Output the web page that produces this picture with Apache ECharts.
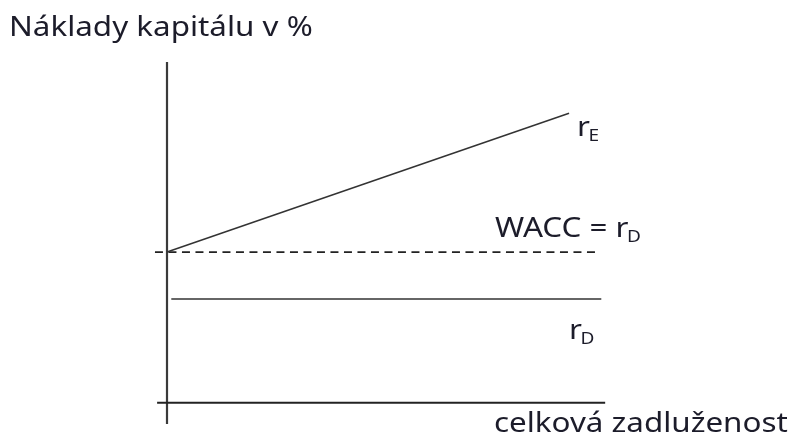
<!DOCTYPE html>
<html>
<head>
<meta charset="utf-8">
<script src="https://cdn.jsdelivr.net/npm/echarts@6/dist/echarts.min.js"></script>
<style>
  html, body { margin: 0; padding: 0; background: #fff; }
  #chart { width: 794px; height: 441px; }
</style>
</head>
<body>
<div id="chart"></div>
<script>
// schematic values: x = celková zadluženost, y = náklady kapitálu (abstract units)
var osaY = [[0, -7], [0, 113]];
var osaX = [[-2.3, 0], [101.9, 0]];
var waccRD = [[-2.8, 50], [100, 50]];
var rE = [[0, 50], [93.5, 96]];
var rD = [[1, 34.4], [101, 34.4]];

var chart = echarts.init(document.getElementById('chart'));
var font = 'Noto Sans';
var txtColor = '#1c1c2a';
var stretch = 1.12;   // the source text is a bit wider than Noto Sans
var mainFont = '28px "' + font + '"';
var subFont = '17px "' + font + '"';

var ctx = document.createElement('canvas').getContext('2d');
function textWidth(t, f) {
    ctx.font = f;
    return ctx.measureText(t).width * stretch;
}

function lineSeries(data, width, color, dash) {
    return {
        type: 'line',
        data: data,
        symbol: 'none',
        silent: true,
        lineStyle: { width: width, color: color, type: dash ? [8, 5.5] : 'solid' }
    };
}

function label(text, x, y, f) {
    return { type: 'text', x: x, y: y, scaleX: stretch,
             style: { text: text, fill: txtColor, font: f || mainFont, verticalAlign: 'top' } };
}

// main text plus a dropped subscript right after it
function subLabel(main, sub, x, y) {
    return [
        label(main, x, y),
        label(sub, x + textWidth(main, mainFont) - 1.5, y + 14, subFont)
    ];
}

var graphics = [
    label('Náklady kapitálu v %', 9, 14),
    label('celková zadluženost', 494, 410)
].concat(
    subLabel('r', 'E', 577, 114),
    subLabel('WACC = r', 'D', 495, 215),
    subLabel('r', 'D', 569, 317)
);

var option = {
    animation: false,
    grid: { left: 124, right: 25, top: 56, bottom: 8 },
    xAxis: { type: 'value', min: -10, max: 140, show: false },
    yAxis: { type: 'value', min: -10, max: 115, show: false },
    series: [
        lineSeries(osaY, 2.2, '#3a3a3a'),
        lineSeries(osaX, 2, '#222'),
        lineSeries(waccRD, 1.8, '#222', true),
        lineSeries(rE, 1.5, '#333'),
        lineSeries(rD, 1.5, '#333')
    ],
    graphic: graphics
};
chart.setOption(option);
</script>
</body>
</html>
